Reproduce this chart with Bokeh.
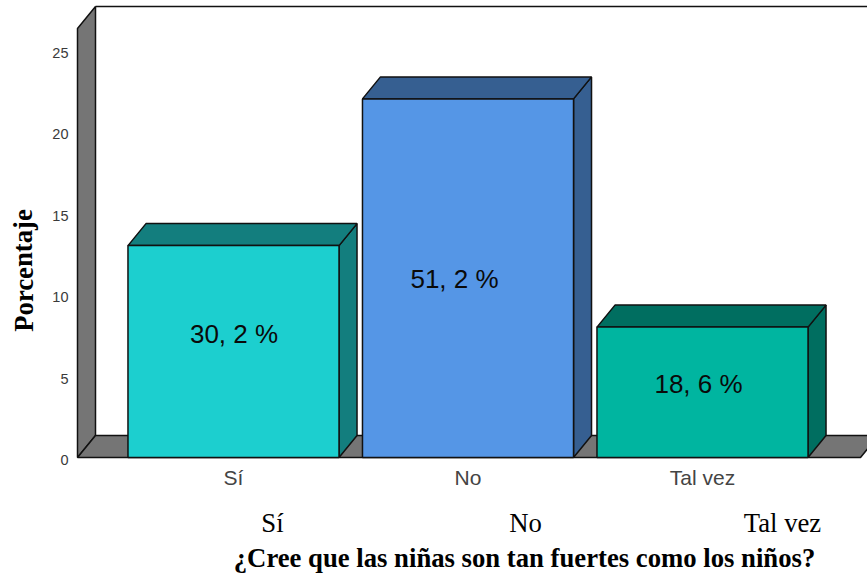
from bokeh.plotting import figure
from bokeh.models import Range1d, FixedTicker, Label, LinearAxis
from bokeh.embed import file_html
from bokeh.resources import INLINE

categories = ["Sí", "No", "Tal vez"]
values = [13, 22, 8]
percent_labels = ["30, 2 %", "51, 2 %", "18, 6 %"]
front_colors = ["#1ccfcf", "#5596e6", "#00b5a0"]
shade_colors = ["#137e7e", "#365f91", "#006e60"]
y_ticks = [0, 5, 10, 15, 20, 25]
lower_labels = ["Sí", "No", "Tal vez"]
x_title = "¿Cree que las niñas son tan fuertes como los niños?"
y_title = "Porcentaje"

W, H = 867, 573
PX_X, PX_Y = 234.5, 16.3
CX0, Y0 = 233, 457
BAR = 0.9
DX, DY = 18 / PX_X, 22 / PX_Y
LEFT, RIGHT = (77 - CX0) / PX_X, (860 - CX0) / PX_X
TOP = (Y0 - 6) / PX_Y
TICK_SHIFT = 2.5 / PX_Y
INK = "#111111"

xs = list(range(len(categories)))
y_start, y_end = (Y0 - H) / PX_Y, Y0 / PX_Y
p = figure(width=W, height=H, output_backend="svg", toolbar_location=None,
           x_range=Range1d(-CX0 / PX_X, (W - CX0) / PX_X),
           y_range=Range1d(y_start, y_end),
           y_axis_location=None,
           min_border_left=0, min_border_right=0, min_border_top=0, min_border_bottom=0)
p.extra_y_ranges = {"ticks": Range1d(y_start + TICK_SHIFT, y_end + TICK_SHIFT)}
p.grid.visible = False
p.outline_line_color = None
p.background_fill_color = "white"

yax = LinearAxis(y_range_name="ticks", fixed_location=LEFT, ticker=FixedTicker(ticks=y_ticks))
yax.axis_line_color = None
yax.major_tick_line_color = None
yax.minor_tick_line_color = None
yax.major_label_standoff = 3
yax.major_label_text_font = "Liberation Sans"
yax.major_label_text_font_size = "14.5px"
yax.major_label_text_color = "#3a3a3a"
p.add_layout(yax, "left")

p.xaxis.fixed_location = 0
p.xaxis.ticker = FixedTicker(ticks=xs)
p.xaxis.major_label_overrides = {i: c for i, c in zip(xs, categories)}
p.xaxis.axis_line_color = None
p.xaxis.major_tick_line_color = None
p.xaxis.minor_tick_line_color = None
p.xaxis.major_label_standoff = 2
p.xaxis.major_label_text_font = "Liberation Sans"
p.xaxis.major_label_text_font_size = "21px"
p.xaxis.major_label_text_color = "#444444"

p.patch([LEFT, LEFT + DX, LEFT + DX, LEFT], [0, DY, TOP, TOP - DY],
        fill_color="#757575", line_color=INK, line_width=1.5)
p.patch([LEFT, LEFT + DX, RIGHT + DX, RIGHT], [0, DY, DY, 0],
        fill_color="#757575", line_color=INK, line_width=1.5)
p.line([LEFT + DX, RIGHT + DX], [TOP, TOP], line_color=INK, line_width=1.5)

for x, v, fc, sc in zip(xs, values, front_colors, shade_colors):
    l, r = x - BAR / 2, x + BAR / 2
    p.patch([r, r + DX, r + DX, r], [0, DY, v + DY, v], fill_color=sc, line_color=INK, line_width=1.5)
    p.patch([l, l + DX, r + DX, r], [v, v + DY, v + DY, v], fill_color=sc, line_color=INK, line_width=1.5)
p.vbar(x=xs, top=values, bottom=0, width=BAR, fill_color=front_colors, line_color=INK, line_width=1.5)

def add_label(text, px, py, font, size, style="normal", color="black", angle=0.0):
    p.add_layout(Label(x=px, y=H - py, x_units="screen", y_units="screen", text=text,
                       text_align="center", text_baseline="middle", text_font=font,
                       text_font_size=size, text_font_style=style, text_color=color, angle=angle))

for t, px, py in zip(percent_labels, [233.5, 454, 698], [333, 278, 383]):
    add_label(t, px, py, "Liberation Sans", "26px", color="#0a0a0a")
for t, px in zip(lower_labels, [272, 525, 782]):
    add_label(t, px, 522, "Liberation Serif", "26.7px")
add_label(x_title, 524, 557, "Liberation Serif", "26.7px", style="bold")
add_label(y_title, 23, 270, "Liberation Serif", "26.7px", style="bold", angle=1.5708)

open("out.html", "w").write(file_html(p, INLINE))
